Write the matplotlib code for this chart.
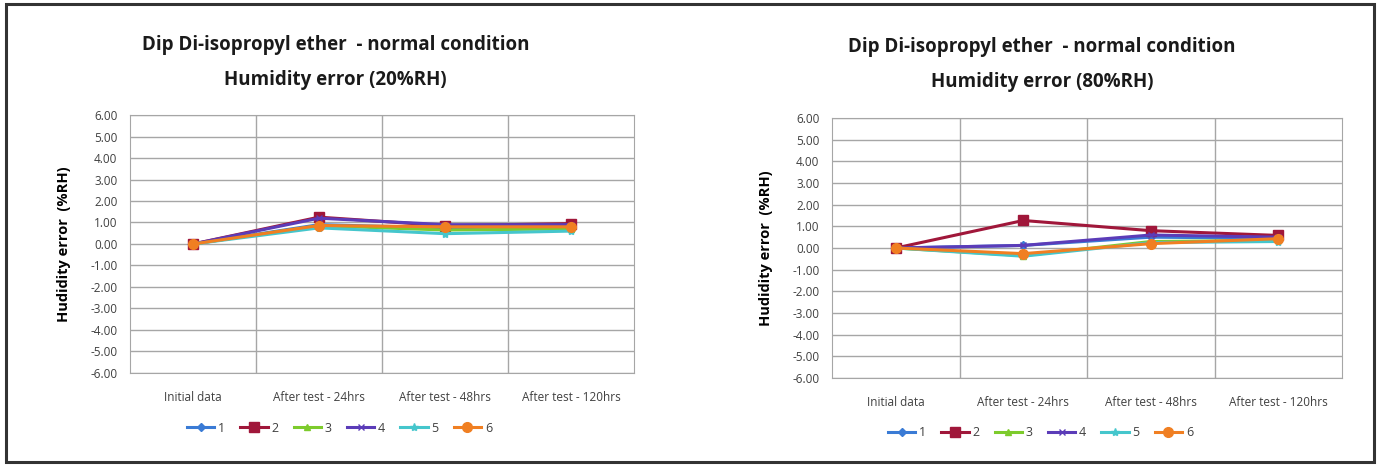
import numpy as np
import matplotlib
matplotlib.use("Agg")
import matplotlib.pyplot as plt
from matplotlib.patches import Rectangle

plt.rcParams['font.family'] = ['Open Sans', 'DejaVu Sans']

categories = ["Initial data", "After test - 24hrs", "After test - 48hrs", "After test - 120hrs"]
series_names = ["1", "2", "3", "4", "5", "6"]

# humidity error at 20%RH, one list per sample
rh20_1 = [0.0, 0.90, 0.75, 0.85]
rh20_2 = [0.0, 1.25, 0.85, 0.95]
rh20_3 = [0.0, 0.85, 0.65, 0.70]
rh20_4 = [0.0, 1.20, 0.90, 0.90]
rh20_5 = [0.0, 0.75, 0.48, 0.60]
rh20_6 = [0.0, 0.86, 0.80, 0.80]

# humidity error at 80%RH
rh80_1 = [0.0, 0.12, 0.50, 0.45]
rh80_2 = [0.0, 1.27, 0.80, 0.58]
rh80_3 = [0.0, -0.35, 0.30, 0.35]
rh80_4 = [0.0, 0.12, 0.60, 0.50]
rh80_5 = [0.0, -0.38, 0.25, 0.30]
rh80_6 = [0.0, -0.26, 0.20, 0.43]

colors = ["#3A7BD5", "#A0173A", "#7DCB2C", "#5B3CB8", "#45C6CC", "#F07F22"]
markers = ["D", "s", "^", "x", "*", "o"]
msizes = [4, 7, 5, 5, 6, 7]

fig = plt.figure(figsize=(13.8, 4.66), dpi=100)
fig.patches.append(Rectangle((0.004, 0.008), 0.992, 0.984, transform=fig.transFigure,
                             fill=False, edgecolor="#333333", linewidth=2.2))


def panel(rect, data, title2, title_xy, leg_xy):
    ax = fig.add_axes(rect)
    x = np.arange(len(categories))
    for vals, name, c, m, ms in zip(data, series_names, colors, markers, msizes):
        ax.plot(x, vals, color=c, marker=m, markersize=ms, linewidth=2.2, label=name,
                markeredgecolor=c)
    ax.set_xlim(-0.5, len(categories) - 0.5)
    ax.set_ylim(-6, 6)
    ax.set_yticks(np.arange(-6, 7, 1))
    ax.set_yticklabels([f"{v:.2f}" for v in np.arange(-6, 7, 1)])
    ax.set_xticks(x)
    ax.set_xticklabels(categories)
    ax.set_xticks(np.arange(0.5, len(categories) - 0.5, 1), minor=True)
    ax.grid(True, axis="y", which="major", color="#A6A6A6", linewidth=1)
    ax.grid(True, axis="x", which="minor", color="#A6A6A6", linewidth=1)
    ax.set_axisbelow(True)
    ax.tick_params(axis="both", which="both", length=0, labelsize=8.5, colors="#404040")
    ax.tick_params(axis="x", pad=13)
    ax.tick_params(axis="y", pad=9)
    for s in ax.spines.values():
        s.set_color("#A6A6A6")
    ax.set_ylabel("Hudidity error  (%RH)", fontsize=10.5, fontweight="bold", labelpad=14)
    fig.text(title_xy[0], title_xy[1], "Dip Di-isopropyl ether  - normal condition",
             ha="center", va="center", fontsize=13.5, fontweight="bold", color="#1a1a1a")
    fig.text(title_xy[0], title_xy[1] - 0.075, title2,
             ha="center", va="center", fontsize=13.5, fontweight="bold", color="#1a1a1a")
    fig.legend(*ax.get_legend_handles_labels(), loc="center", bbox_to_anchor=leg_xy,
               ncol=6, frameon=False, fontsize=9, handlelength=2.2, handletextpad=0.3,
               columnspacing=1.2, labelcolor="#404040")
    return ax


panel([0.0942, 0.1996, 0.3652, 0.5536],
      [rh20_1, rh20_2, rh20_3, rh20_4, rh20_5, rh20_6],
      "Humidity error (20%RH)", (0.243, 0.903), (0.246, 0.0815))
panel([0.6029, 0.1888, 0.3696, 0.558],
      [rh80_1, rh80_2, rh80_3, rh80_4, rh80_5, rh80_6],
      "Humidity error (80%RH)", (0.755, 0.899), (0.754, 0.071))

fig.savefig("out.png", dpi=100)
